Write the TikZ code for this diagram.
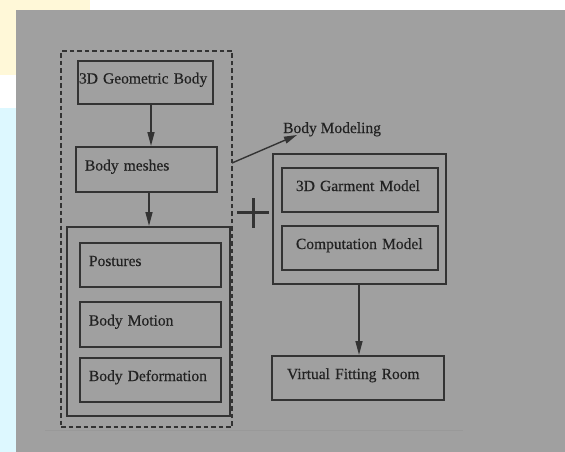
\documentclass[tikz,border=0pt]{standalone}
\usepackage{fontspec}
\setmainfont{Liberation Serif}[BoldFont={Liberation Serif}, BoldFeatures={FakeBold=0.4}]
\usetikzlibrary{arrows.meta}
\definecolor{panel}{HTML}{A0A0A0}
\definecolor{ink}{HTML}{333333}
\definecolor{txt}{HTML}{222222}
\definecolor{cream}{HTML}{FFF8D8}
\definecolor{sky}{HTML}{DDF8FF}
\definecolor{rule}{HTML}{999999}
\newcommand{\labelfont}{\fontsize{15.5}{18}\bfseries}
\tikzset{
  box/.style={draw=ink, line width=2pt, rectangle, text=txt, align=left,
    font=\labelfont, text height=10pt, text depth=8pt,
    inner ysep=0pt},
  frame/.style={draw=ink, line width=2pt, rectangle, inner sep=0pt},
  dashframe/.style={draw=ink, line width=2pt, rectangle, inner sep=0pt,
    dash pattern=on 4.5pt off 3pt},
  flow/.style={draw=ink, line width=1.6pt, -{Triangle[length=14pt,width=7pt]}},
  tag/.style={text=txt, font=\labelfont, inner sep=0pt}
}
\begin{document}
\begin{tikzpicture}[x=1pt, y=-1pt]
  % page surroundings and grey panel
  \useasboundingbox (0,0) rectangle (565,452);
  \fill[white] (0,0) rectangle (565,452);
  \fill[cream] (0,0) rectangle (90,75);
  \fill[sky] (0,108) rectangle (16,452);
  \fill[panel] (16,10) rectangle (565,452);
  \draw[rule, line width=0.6pt] (45,430) -- (463,430);

  % body modelling column
  \node[dashframe, minimum width=171, minimum height=376] (bodymodel) at (146.5,239) {};
  \node[box, minimum width=135, minimum height=43, inner xsep=1pt, text width=133pt]
    (geo) at (145.5,82.5) {3D Geometric Body};
  \node[box, minimum width=141, minimum height=45, inner xsep=9pt, text width=123pt]
    (meshes) at (146.5,169.5) {Body meshes};
  \node[frame, minimum width=163, minimum height=189] (group) at (148.5,321.5) {};
  \node[box, minimum width=141, minimum height=44, inner xsep=9pt, text width=123pt]
    (postures) at (150.5,265) {Postures};
  \node[box, minimum width=141, minimum height=45, inner xsep=9pt, text width=123pt]
    (motion) at (150.5,324.5) {Body Motion};
  \node[box, minimum width=141, minimum height=44, inner xsep=9pt, text width=123pt]
    (deform) at (150.5,380) {Body Deformation};

  \draw[flow] (geo.south -| 151,0) -- (meshes.north -| 151,0);
  \draw[flow] (meshes.south -| 149,0) -- (group.north -| 149,0);

  % label of the modelling column
  \node[tag, anchor=base west] (modlabel) at (283,133) {Body Modeling};
  \coordinate (modfrom) at (232,163);
  \coordinate (modto) at (297,135);
  \draw[ink, line width=1.4pt, -{Triangle[length=13pt,width=7pt]}] (modfrom) -- (modto);

  % plus sign
  \draw[ink, line width=3pt] (237,212) -- (269,212);
  \draw[ink, line width=3pt] (253,198) -- (253,228);

  % garment side
  \node[frame, minimum width=173, minimum height=130] (garment) at (359.5,219) {};
  \node[box, minimum width=156, minimum height=44, inner xsep=14pt, text width=128pt]
    (gmodel) at (360,190) {3D Garment Model};
  \node[box, minimum width=156, minimum height=44, inner xsep=14pt, text width=128pt]
    (cmodel) at (360,248) {Computation Model};
  \node[box, minimum width=172, minimum height=44, inner xsep=15pt, text width=142pt]
    (room) at (358,378) {Virtual Fitting Room};

  \draw[flow] (garment.south -| 359,0) -- (room.north -| 359,0);
\end{tikzpicture}
\end{document}
